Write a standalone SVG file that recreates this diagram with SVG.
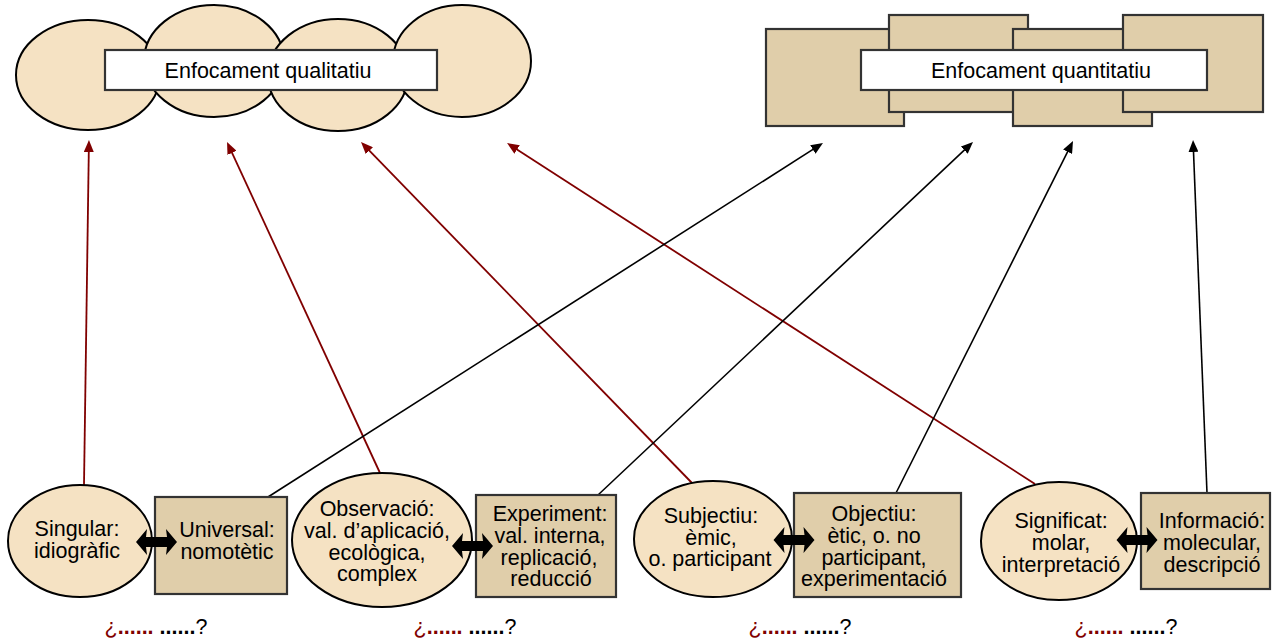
<svg xmlns="http://www.w3.org/2000/svg" width="1272" height="644" viewBox="0 0 1272 644">
<style>
text{font-family:"Liberation Sans",Arial,sans-serif;font-size:21.5px;fill:#000;text-anchor:middle}
.ell{fill:#F5E2C3;stroke:#000;stroke-width:2}
.box{fill:#E0CEAA;stroke:#333;stroke-width:2.2}
.title{fill:#fff;stroke:#333;stroke-width:2.2}
.red{stroke:#800000;stroke-width:1.8;fill:none;marker-end:url(#ahr)}
.blk{stroke:#000;stroke-width:1.6;fill:none;marker-end:url(#ahb)}
.dbl{fill:#000}
.rd{fill:#800000;font-weight:bold}
.bd{font-weight:bold}
</style>
<defs>
<marker id="ahr" viewBox="0 0 12 10" refX="8" refY="5" markerWidth="12" markerHeight="10" markerUnits="userSpaceOnUse" orient="auto"><path d="M0,0 L12,5 L0,10 z" fill="#800000"/></marker>
<marker id="ahb" viewBox="0 0 12 10" refX="8" refY="5" markerWidth="12" markerHeight="10" markerUnits="userSpaceOnUse" orient="auto"><path d="M0,0 L12,5 L0,10 z" fill="#000"/></marker>
<path id="darrow" d="M-20.5,0 L-9.5,-13 L-10.5,-5 L10.5,-5 L9.5,-13 L20.5,0 L9.5,13 L10.5,5 L-10.5,5 L-9.5,13 Z"/>
</defs>

<g id="qualitatiu">
<ellipse class="ell" cx="88" cy="75" rx="72" ry="55"/>
<ellipse class="ell" cx="214" cy="61" rx="70" ry="56"/>
<ellipse class="ell" cx="338" cy="75" rx="70" ry="56"/>
<ellipse class="ell" cx="462" cy="61" rx="69" ry="56"/>
<rect class="title" x="105" y="50" width="332" height="40"/>
<text x="268" y="78">Enfocament qualitatiu</text>
</g>

<g id="quantitatiu">
<rect class="box" x="766" y="29" width="138" height="97"/>
<rect class="box" x="889" y="15" width="139" height="97"/>
<rect class="box" x="1013" y="29" width="139" height="97"/>
<rect class="box" x="1123" y="15" width="140" height="97"/>
<rect class="title" x="861" y="50" width="346" height="40"/>
<text x="1041" y="78">Enfocament quantitatiu</text>
</g>

<g id="connectors">
<line class="red" x1="84" y1="485" x2="88.9" y2="144"/>
<line class="red" x1="380" y1="473" x2="228.7" y2="145.6"/>
<line class="red" x1="692" y1="483" x2="363.8" y2="144.9"/>
<line class="red" x1="1035" y1="484" x2="510.4" y2="145.2"/>
<line class="blk" x1="268" y1="497" x2="819.6" y2="145.2"/>
<line class="blk" x1="598" y1="495" x2="970.1" y2="144.7"/>
<line class="blk" x1="896" y1="493" x2="1071.2" y2="144.6"/>
<line class="blk" x1="1207" y1="493" x2="1193.2" y2="144"/>
</g>

<g id="singular">
<ellipse class="ell" cx="80" cy="541" rx="72" ry="56"/>
<text x="77" y="536">Singular:<tspan x="77" dy="22">idiogràfic</tspan></text>
</g>
<g id="universal">
<rect class="box" x="155" y="497" width="132" height="97"/>
<text x="227" y="537">Universal:<tspan x="227" dy="22">nomotètic</tspan></text>
</g>
<g id="observacio">
<ellipse class="ell" cx="382" cy="540" rx="90" ry="67"/>
<text x="377" y="516">Observació:<tspan x="377" dy="22">val. d’aplicació,</tspan><tspan x="377" dy="21.5">ecològica,</tspan><tspan x="377" dy="21.5">complex</tspan></text>
</g>
<g id="experiment">
<rect class="box" x="476" y="495" width="140" height="102"/>
<text x="550" y="521">Experiment:<tspan x="550" dy="22">val. interna,</tspan><tspan x="549" dy="21.5">replicació,</tspan><tspan x="551" dy="21.5">reducció</tspan></text>
</g>
<g id="subjectiu">
<ellipse class="ell" cx="713" cy="539" rx="79" ry="58"/>
<text x="711" y="523">Subjectiu:<tspan x="711" dy="21.5">èmic,</tspan><tspan x="710" dy="21.5">o. participant</tspan></text>
</g>
<g id="objectiu">
<rect class="box" x="794" y="493" width="167" height="104"/>
<text x="874" y="521">Objectiu:<tspan x="874" dy="22">ètic, o. no</tspan><tspan x="874" dy="21.5">participant,</tspan><tspan x="874" dy="21.5">experimentació</tspan></text>
</g>
<g id="significat">
<ellipse class="ell" cx="1059" cy="541" rx="78" ry="59"/>
<text x="1061" y="528">Significat:<tspan x="1061" dy="22">molar,</tspan><tspan x="1061" dy="22">interpretació</tspan></text>
</g>
<g id="informacio">
<rect class="box" x="1141" y="493" width="129" height="96"/>
<text x="1212" y="528">Informació:<tspan x="1212" dy="22">molecular,</tspan><tspan x="1212" dy="22">descripció</tspan></text>
</g>

<g id="double-arrows">
<use href="#darrow" class="dbl" x="156.5" y="542"/>
<use href="#darrow" class="dbl" x="472.5" y="546"/>
<use href="#darrow" class="dbl" x="794" y="540"/>
<use href="#darrow" class="dbl" x="1137" y="540"/>
</g>

<g id="questions">
<text x="156" y="634"><tspan fill="#800000">¿</tspan><tspan class="rd">......</tspan> <tspan class="bd">......</tspan>?</text>
<text x="465" y="634"><tspan fill="#800000">¿</tspan><tspan class="rd">......</tspan> <tspan class="bd">......</tspan>?</text>
<text x="800" y="634"><tspan fill="#800000">¿</tspan><tspan class="rd">......</tspan> <tspan class="bd">......</tspan>?</text>
<text x="1126" y="634"><tspan fill="#800000">¿</tspan><tspan class="rd">......</tspan> <tspan class="bd">......</tspan>?</text>
</g>
</svg>
